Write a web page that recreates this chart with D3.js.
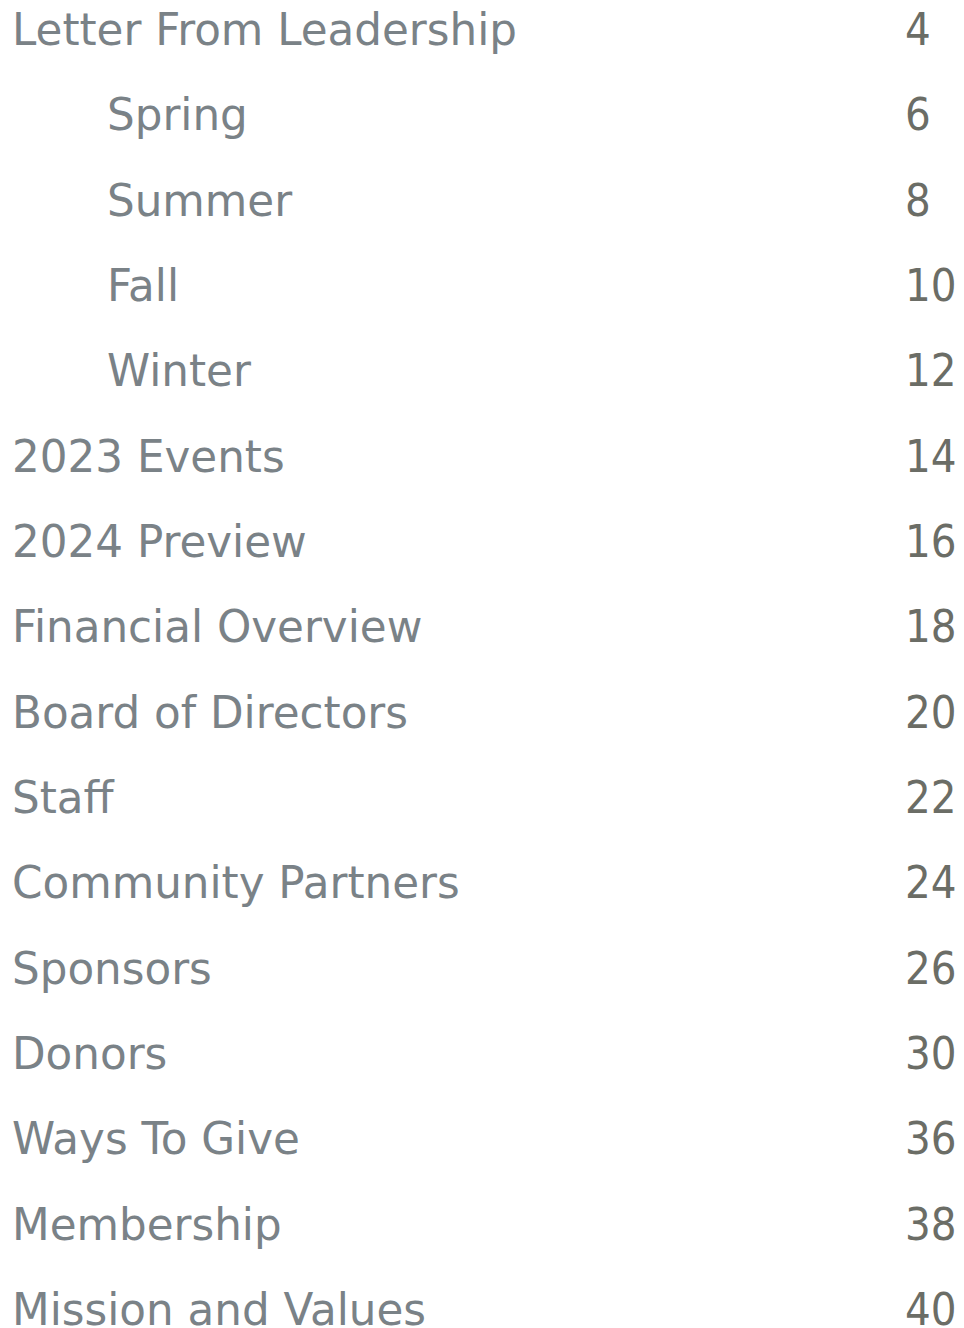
<!DOCTYPE html>
<html>
<head>
<meta charset="utf-8">
<script src="https://cdn.jsdelivr.net/npm/d3@7.9.0/dist/d3.min.js"></script>
<style>
  html, body { margin: 0; padding: 0; background: #fff; overflow: hidden; }
</style>
</head>
<body>
<div id="toc-container"></div>
<script>
// table of contents entries
const titles = ["Letter From Leadership", "Spring", "Summer", "Fall", "Winter",
  "2023 Events", "2024 Preview", "Financial Overview", "Board of Directors", "Staff",
  "Community Partners", "Sponsors", "Donors", "Ways To Give", "Membership", "Mission and Values"];
const pages = [4, 6, 8, 10, 12, 14, 16, 18, 20, 22, 24, 26, 30, 36, 38, 40];
const levels = [0, 1, 1, 1, 1, 0, 0, 0, 0, 0, 0, 0, 0, 0, 0, 0];

const width = 964;
const height = 1328;

const svg = d3.select("#toc-container").append("svg")
    .attr("width", width)
    .attr("height", height);

const rows = titles.map((t, i) => ({ title: t, page: pages[i], level: levels[i], i }));

const yScale = d3.scaleLinear().domain([0, rows.length - 1]).range([45, 1325]);
const xIndent = d3.scaleOrdinal().domain([0, 1]).range([12, 107]);
const pageX = 905;

const fontSize = 45;
const font = "'DejaVu Sans', sans-serif";

const labels = svg.selectAll("text.label").data(rows)
    .join("text")
    .attr("class", "label")
    .attr("x", d => xIndent(d.level))
    .attr("y", d => yScale(d.i))
    .attr("font-family", font)
    .attr("font-size", fontSize)
    .attr("fill", "#7a8287")
    .text(d => d.title);

const nums = svg.selectAll("text.page").data(rows)
    .join("text")
    .attr("class", "page")
    .attr("x", pageX)
    .attr("y", d => yScale(d.i))
    .attr("font-family", font)
    .attr("font-size", fontSize)
    .attr("fill", "#6b6d66")
    .text(d => d.page);

// stretch glyphs so the first heading spans the same width as the original
const targetWidth = 505;
const natural = labels.filter(d => d.i === 0).node().getComputedTextLength();
const k = targetWidth / natural;
labels.each(function () {
    const w = this.getComputedTextLength();
    d3.select(this).attr("textLength", w * k).attr("lengthAdjust", "spacingAndGlyphs");
});
// digits in the original are a bit narrower
nums.each(function () {
    const w = this.getComputedTextLength();
    d3.select(this).attr("textLength", w * 0.9).attr("lengthAdjust", "spacingAndGlyphs");
});
</script>
</body>
</html>
